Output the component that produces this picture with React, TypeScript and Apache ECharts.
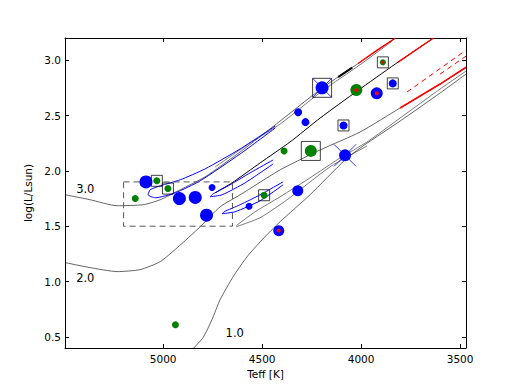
import { useEffect, useRef } from "react";
import * as echarts from "echarts";

// ---- axis ticks ----
const xTicks = [3500, 4000, 4500, 5000];
const yTicks = [0.5, 1.0, 1.5, 2.0, 2.5, 3.0];

// ---- evolutionary tracks [Teff, logL] ----
const track30 = [[5495,1.784],[5369,1.739],[5232,1.685],[5101,1.694],[5015,1.739],[4914,1.829],[4788,1.946],[4611,2.171],[4409,2.450],[4197,2.748],[4005,2.982],[3828,3.198]];
const track30Agb = [[4737,2.036],[4561,2.252],[4409,2.423],[4197,2.721],[4005,2.959],[3843,3.171]];
const track30Dense = [[4116,2.847],[4045,2.933]];
const track30Red = [[4015,2.97],[3919,3.09],[3828,3.198]];
const loop30 = [[4434,2.405],[4611,2.198],[4788,2.018],[4914,1.919],[5015,1.865],[5066,1.829],[5076,1.784],[5040,1.757],[4939,1.802],[4813,1.910],[4611,2.153],[4434,2.387]];

const track20 = [[5495,1.171],[5369,1.126],[5232,1.090],[5116,1.108],[5015,1.180],[4929,1.306],[4813,1.495],[4712,1.676],[4611,1.784],[4409,2.009],[4207,2.189],[4005,2.351],[3803,2.568],[3601,2.784],[3470,2.928]];
const track20Red = [[3803,2.568],[3601,2.784],[3470,2.937]];
const loop20 = [[4444,2.099],[4561,1.982],[4662,1.874],[4747,1.793],[4763,1.766],[4702,1.784],[4586,1.892],[4444,2.063]];
const agb20 = [[4737,1.802],[4652,1.892],[4510,2.072],[4359,2.261],[4207,2.477],[4020,2.721],[3828,2.964],[3636,3.198]];
const agb20Red = [[3813,2.982],[3636,3.198]];

const track10 = [[4848,0.396],[4798,0.495],[4753,0.658],[4712,0.838],[4646,1.045],[4576,1.225],[4500,1.378],[4409,1.541],[4258,1.784],[4081,2.099],[3990,2.225],[3803,2.450],[3601,2.703],[3470,2.874]];
const loop10 = [[4394,1.901],[4510,1.784],[4611,1.694],[4692,1.631],[4702,1.613],[4636,1.631],[4510,1.730],[4394,1.874]];
const clump10Upper = [[4631,1.505],[4535,1.631],[4409,1.766],[4258,1.937],[4106,2.117],[3970,2.261],[3803,2.477],[3601,2.739],[3470,2.901]];
const clump10Lower = [[4631,1.495],[4510,1.577],[4374,1.739],[4157,2.036],[3970,2.225]];

const tpagbDashA = [[3768,2.712],[3470,3.090]];
const tpagbDashB = [[3601,2.874],[3470,3.036]];

// ---- selection box ----
const boxTeff = [5200, 4650];
const boxLogL = [1.5, 1.9];

// ---- stars [Teff, logL, weight] ----
const blueStars = [[5087,1.90,13],[4918,1.75,13],[4838,1.76,13],[4781,1.60,13],[4753,1.85,7],[4566,1.68,7],[4318,2.53,8],[4281,2.44,8],[4320,1.82,11],[4197,2.75,13],[3921,2.70,12],[4089,2.41,8],[4081,2.14,12],[3840,2.79,8],[4416,1.46,11]];
const greenStars = [[5032,1.91,7],[4976,1.84,7],[5141,1.75,7],[4938,0.61,7],[4389,2.18,7],[4254,2.18,12],[4024,2.73,12],[3890,2.98,6],[4490,1.78,7]];
const boxedBig = [[4197,2.75],[4254,2.18]];
const boxedSmall = [[5032,1.91],[4976,1.84],[4089,2.41],[3840,2.79],[3890,2.98],[4490,1.78]];
const crossed = [[4197,2.75,19],[4081,2.14,22]];
const redCores = [[3921,2.70,4],[4024,2.73,4],[4416,1.46,4],[3890,2.98,3]];

const trackLabels = [
  { name: "3.0", value: [5391, 1.83] },
  { name: "2.0", value: [5391, 1.03] },
  { name: "1.0", value: [4636, 0.53] },
];

const FONT = "DejaVu Sans";

function lineSeries(data: number[][], color: string, width: number, type: any = "solid", smooth: number | boolean = false) {
  return {
    type: "line",
    data,
    showSymbol: false,
    symbol: "none",
    smooth,
    silent: true,
    lineStyle: { color, width, type },
    z: 2,
  };
}

export default function App() {
  const ref = useRef<HTMLDivElement>(null);
  useEffect(() => {
    if (!ref.current) return;
    const chart = echarts.init(ref.current, undefined, { renderer: "svg" });
    const box = [
      [boxTeff[0], boxLogL[1]],
      [boxTeff[1], boxLogL[1]],
      [boxTeff[1], boxLogL[0]],
      [boxTeff[0], boxLogL[0]],
      [boxTeff[0], boxLogL[1]],
    ];
    const axisBase = {
      type: "value",
      axisLine: { show: true, onZero: false, lineStyle: { color: "#000", width: 1 } },
      splitLine: { show: false },
    };
    const BLK = "#222";
    const option: any = {
      animation: false,
      textStyle: { fontFamily: FONT },
      grid: { left: 65, right: 52, top: 38, bottom: 40, containLabel: false },
      xAxis: [
        {
          ...axisBase,
          min: 3470, max: 5496, inverse: true, position: "bottom",
          name: "Teff [K]", nameLocation: "middle", nameGap: 15,
          nameTextStyle: { fontSize: 10.5, color: "#000", fontFamily: FONT },
          axisTick: { show: true, inside: true, length: 4, customValues: xTicks, lineStyle: { color: "#000" } },
          axisLabel: { customValues: xTicks, margin: 5, fontSize: 10.5, color: "#000", fontFamily: FONT, formatter: (v: number) => String(v) },
        },
        {
          ...axisBase,
          min: 3470, max: 5496, inverse: true, position: "top",
          axisTick: { show: true, inside: true, length: 4, customValues: xTicks, lineStyle: { color: "#000" } },
          axisLabel: { show: false },
        },
      ],
      yAxis: [
        {
          ...axisBase,
          min: 0.4, max: 3.2, position: "left",
          name: "log(L/Lsun)", nameLocation: "middle", nameGap: 27, nameRotate: 90,
          nameTextStyle: { fontSize: 10.5, color: "#000", fontFamily: FONT },
          axisTick: { show: true, inside: true, length: 4, customValues: yTicks, lineStyle: { color: "#000" } },
          axisLabel: { customValues: yTicks, margin: 4, fontSize: 10.5, color: "#000", fontFamily: FONT, formatter: (v: number) => v.toFixed(1) },
        },
        {
          ...axisBase,
          min: 0.4, max: 3.2, position: "right",
          axisTick: { show: true, inside: true, length: 4, customValues: yTicks, lineStyle: { color: "#000" } },
          axisLabel: { show: false },
        },
      ],
      series: [
        lineSeries(track30, BLK, 0.7, "solid", 0.2),
        lineSeries(track30Agb, BLK, 0.6, "solid", 0.2),
        lineSeries(track30Dense, "#000", 2),
        lineSeries(track20, BLK, 0.7, "solid", 0.2),
        lineSeries(agb20, "#000", 1.0, "solid", 0.2),
        lineSeries(track10, BLK, 0.7, "solid", 0.2),
        lineSeries(clump10Upper, BLK, 0.6, "solid", 0.2),
        lineSeries(clump10Lower, BLK, 0.6, "solid", 0.2),
        lineSeries(loop30, "#0000ff", 1, "solid", 0.2),
        lineSeries(loop20, "#0000ff", 1, "solid", 0.2),
        lineSeries(loop10, "#0000ff", 1, "solid", 0.2),
        lineSeries(track30Red, "#ff0000", 1.4),
        lineSeries(agb20Red, "#ff0000", 1.4),
        lineSeries(track20Red, "#ff0000", 1.6),
        lineSeries(tpagbDashA, "#ff0000", 1, [5, 4]),
        lineSeries(tpagbDashB, "#ff0000", 1, [5, 4]),
        { ...lineSeries(box, "#555", 1, [6, 4]), z: 3 },
        {
          type: "scatter", data: blueStars, z: 4, silent: true,
          symbol: "circle", symbolSize: (v: number[]) => v[2],
          itemStyle: { color: "#0000ff", opacity: 1 },
        },
        {
          type: "scatter", data: greenStars, z: 4, silent: true,
          symbol: "circle", symbolSize: (v: number[]) => v[2],
          itemStyle: { color: "#008000", opacity: 1 },
        },
        {
          type: "scatter", data: redCores, z: 5, silent: true,
          symbol: "circle", symbolSize: (v: number[]) => v[2],
          itemStyle: { color: "#ff0000", opacity: 1 },
        },
        {
          type: "scatter", data: boxedBig, z: 6, silent: true,
          symbol: "rect", symbolSize: 19,
          itemStyle: { color: "rgba(0,0,0,0)", borderColor: "#111", borderWidth: 1 },
        },
        {
          type: "scatter", data: boxedSmall, z: 6, silent: true,
          symbol: "rect", symbolSize: 11,
          itemStyle: { color: "rgba(0,0,0,0)", borderColor: "#111", borderWidth: 1 },
        },
        {
          type: "scatter", data: crossed, z: 6, silent: true,
          symbol: "path://M0 0L10 10M10 0L0 10", symbolSize: (v: number[]) => v[2],
          itemStyle: { color: "rgba(0,0,0,0)", borderColor: "#0000ff", borderWidth: 1 },
        },
        {
          type: "scatter", data: trackLabels, z: 7, silent: true,
          symbol: "circle", symbolSize: 1,
          itemStyle: { color: "#fff", opacity: 0 },
          label: {
            show: true, position: [0, 0], align: "center", verticalAlign: "middle",
            formatter: "{b}", fontSize: 11.5, color: "#000", opacity: 1,
            textBorderWidth: 0, fontFamily: FONT,
          },
        },
      ],
    };
    chart.setOption(option);
    return () => chart.dispose();
  }, []);
  return <div ref={ref} style={{ position: "fixed", left: 0, top: 0, width: 518, height: 388, background: "#fff" }} />;
}
